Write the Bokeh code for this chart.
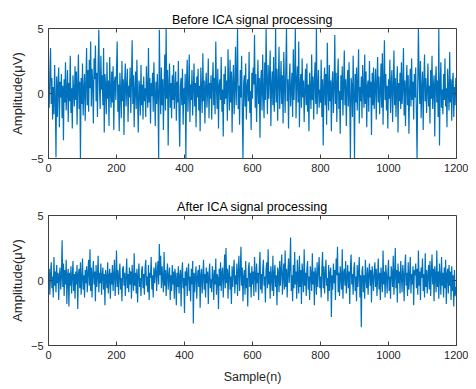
from bokeh.plotting import figure
from bokeh.layouts import column
from bokeh.models import FixedTicker, Range1d
from bokeh.embed import file_html
from bokeh.resources import INLINE

STEP = 2  # sample spacing of the read-off values

before_ica = [
    0.3, -1.1, 1.6, 3.5, -0.8, 1.2, -2.0, 0.5, -1.6, 2.2, -0.4, -4.9, 1.3, -1.8, 0.7, 2.0, -2.6, 0.9, -0.3, 1.5,
    -1.9, 0.6, -3.6, 1.1, -0.7, 2.4, -1.3, 0.2, 1.8, -2.2, 0.8, -0.6, 2.9, -1.5, 0.4, -2.7, 1.4, 0.1, -1.0, 2.1,
    -0.5, 1.7, -2.4, 0.6, 3.0, -1.2, 0.9, -5.0, 1.2, -0.8, 2.3, -1.7, 0.3, 1.5, -2.1, 0.7, 3.5, -0.9, 1.8, -1.4,
    2.6, 0.4, 4.0, -1.0, 1.9, 0.8, -2.3, 2.7, 1.1, 3.7, -0.6, 1.6, -1.8, 2.2, 4.9, 0.5, -1.2, 2.9, 0.3, 1.4,
    -0.9, 3.5, -3.0, 1.5, 0.6, -1.6, 2.4, -0.4, 1.0, -2.5, 2.8, 0.2, -1.1, 1.7, -0.7, 2.1, -2.8, 0.9, 1.3, -0.5,
    1.8, 4.0, -1.4, 0.7, -2.9, 1.6, 0.1, -1.9, 2.5, -0.6, 1.1, -3.2, 0.8, 2.3, -1.0, 0.4, 1.9, -2.2, 0.6, -0.3,
    2.0, -1.5, 0.9, 4.1, -0.8, 1.4, -2.6, 0.3, 1.7, -1.2, 2.6, -0.4, -3.0, 1.0, 0.5, -1.7, 2.2, -0.9, 0.7, -2.0,
    1.3, -0.6, 0.4, -1.8, 2.1, 0.2, -1.1, 3.5, -0.7, 1.2, -2.3, 0.8, -0.2, 1.6, -1.4, 2.4, 0.1, -2.5, 0.9, -0.8,
    1.5, -0.3, -5.0, 4.9, 0.6, -1.6, 2.0, -0.9, 1.1, -2.8, 0.5, 3.0, -1.3, 5.0, -0.4, 1.8, -4.0, 0.7, 2.3, -1.1,
    0.8, -1.9, 1.4, -0.5, 2.2, -1.2, 0.3, 1.7, -2.1, 0.9, -0.7, 2.5, -1.6, -4.1, 0.6, 1.2, -0.9, 1.9, -2.4, 0.4,
    -0.8, 1.5, -5.0, 0.9, 2.6, -1.4, 0.2, 3.0, -2.2, 0.7, -0.5, 1.8, -1.7, 0.4, 2.3, -1.0, 0.8, -2.6, 1.3, -0.3,
    1.9, -1.3, 0.6, -2.9, 2.0, 0.3, -1.5, 3.1, -0.6, 1.0, -2.3, 0.5, 1.6, -1.1, 0.2, 2.7, -1.9, 0.8, -0.4, 1.4,
    -2.0, 0.7, 2.4, -0.9, 1.2, -1.6, 4.0, 0.4, -1.2, 1.9, -2.7, 0.6, 1.1, -0.5, 2.8, -1.4, 0.3, -3.3, 1.5, -0.8,
    2.1, -0.4, 1.0, -2.1, 3.4, 0.5, -1.3, 2.6, -0.7, 1.7, -3.0, 0.9, 2.2, -1.6, 0.4, 3.6, -0.9, 1.3, 5.0, -1.2,
    0.6, -2.4, 1.8, -0.3, 2.9, -1.7, -5.0, 0.8, 1.4, -1.0, 2.3, -2.0, 0.5, 1.1, -0.6, 3.2, -1.5, 0.2, -2.8, 1.6,
    -0.4, 2.0, 0.7, 4.5, -1.1, 1.5, -2.2, 0.3, 2.6, -0.8, 1.2, -3.4, 0.9, 1.8, -1.3, 3.0, 0.1, -1.9, 2.4, -0.5,
    5.0, 0.8, -1.6, 2.2, -0.4, 1.3, 3.3, -2.5, 0.6, 1.7, -0.9, 2.8, -1.4, 0.4, 5.0, -0.7, 1.9, -2.1, 1.0, 3.6,
    -1.2, 0.5, 2.5, -0.8, 1.4, -2.3, 3.2, 0.7, -1.5, 2.0, 5.0, -0.6, 1.1, -2.7, 0.9, 2.3, -1.0, 0.3, 1.6, -1.8,
    3.4, -0.5, 1.2, 5.0, -1.9, 0.8, 2.1, -0.7, 4.0, -2.6, 0.6, 1.5, -1.1, 2.7, -0.3, 1.0, -2.2, 0.4, 1.9, -0.9,
    2.3, -1.4, 0.7, -2.9, 1.6, 0.2, -1.2, 3.0, -0.5, 1.3, -2.0, 0.9, 2.4, -0.8, 5.0, -1.6, 0.5, 1.8, -1.1, 0.3,
    -0.7, 2.6, -1.8, 1.1, -4.0, 0.6, 2.0, -0.9, 1.5, -2.4, 3.9, 0.3, -1.3, 2.2, -0.6, 1.0, -2.9, 0.8, 1.7, -1.5,
    0.4, 4.5, -0.8, 1.6, -2.2, 0.9, 2.7, -1.2, 0.2, -3.1, 1.4, -0.5, 2.1, -1.7, 0.7, 3.3, -0.9, 1.1, -2.5, 0.5,
    1.8, -1.0, 2.4, -0.4, -5.0, 1.2, 0.6, -1.8, 2.9, 0.1, -5.0, 1.5, -0.7, 2.0, -1.3, 0.8, 3.4, -2.3, 0.5, -0.6,
    1.3, -1.9, 2.2, 0.4, -1.1, 3.0, -0.8, 1.7, -2.6, 0.6, 1.0, -1.4, 2.5, -0.3, 0.9, -3.2, 1.6, -0.9, 2.0, -1.2,
    0.5, 1.9, -2.0, 0.8, 2.8, -0.7, 1.3, -1.6, 0.2, 2.3, -1.1, 3.1, -2.4, 0.9, 4.1, -0.5, 1.5, -1.3, 0.6, -2.7,
    1.1, -0.4, 2.6, -1.5, 0.7, 1.8, -2.2, 0.3, 3.3, -0.9, 1.2, -1.8, 0.5, 2.1, -3.0, 0.8, -0.6, 1.6, -1.2, 2.4,
    -0.8, 0.4, 3.5, -1.7, 1.0, -2.5, 0.6, 2.2, -0.9, 1.4, -3.1, 0.2, 1.9, -1.0, 2.7, -0.5, 0.9, -2.0, 1.5, -0.3,
    2.0, -1.4, -5.0, 0.7, 5.0, 1.3, -0.8, 2.5, -1.9, 0.4, 1.7, -2.8, 0.9, 3.0, -0.6, 1.2, -1.5, 0.3, 2.3, -1.0,
    0.6, -2.3, 1.8, -0.4, 2.9, -1.2, 0.5, 1.4, -3.3, 0.8, 2.1, -0.7, 1.0, -1.8, 5.0, -4.0, 0.6, 2.4, -1.1, 0.3,
    -1.6, 1.5, -0.5, 2.7, -1.0, 0.4, -2.6, 1.9, 0.2, -1.3, 3.2, -0.7, 1.1, -2.1, 0.8, 1.6, -1.8, 0.5, -0.9, 1.2,
]

after_ica = [
    -0.2, 0.9, -1.1, 0.5, 1.4, -0.6, 0.3, -1.3, 1.8, -0.4, 0.7, -0.9, 1.2, -0.2, 0.6, -1.5, 0.4, 1.0, -0.7, 0.3,
    3.1, -0.5, 1.3, -1.2, 0.8, -0.3, 1.6, -1.8, 0.4, 0.9, -2.0, 0.6, -0.4, 1.1, -1.0, 0.3, 1.5, -0.8, 0.5, -1.4,
    0.7, -0.3, 1.2, -2.2, 0.5, 0.9, -0.6, 1.4, -1.1, 0.2, 1.7, -0.7, 0.4, -1.3, 0.8, -0.2, 1.1, -0.9, 0.6, 1.6,
    -0.4, 2.4, -0.8, 1.0, -1.3, 0.5, 1.5, -0.3, 0.7, -1.6, 1.2, -0.5, 0.3, 1.9, -0.9, 0.6, -0.2, 1.3, -1.1, 0.4,
    1.0, -0.7, 0.5, -1.9, 0.8, 0.2, -0.6, 1.4, -1.0, 0.3, 0.9, -1.4, 0.6, -0.3, 1.2, -0.8, 0.4, 1.6, -1.2, 0.2,
    2.3, -0.5, 0.8, -1.1, 0.4, 1.3, -0.7, 0.2, -1.6, 0.9, 1.1, -0.4, 0.6, -1.2, 0.3, 1.7, -0.6, 0.5, -0.9, 1.0,
    -0.3, 0.7, -1.4, 1.2, 0.1, -0.8, 2.1, -0.4, 0.6, -1.0, 0.9, -1.7, 0.4, 1.3, -0.5, 0.2, -1.2, 0.8, 1.1, -0.6,
    0.5, -1.1, 0.9, 1.6, -0.4, 0.3, -0.9, 1.2, -1.5, 0.6, 0.2, 1.8, -0.7, 0.4, -1.3, 1.0, -0.2, 0.7, 1.4, -0.8,
    0.6, 1.5, -0.3, 2.8, 0.4, 1.9, -0.6, 1.1, 0.2, -0.9, 2.2, -0.4, 0.8, -1.2, 0.5, 1.3, -0.7, 0.3, 1.0, -1.5,
    0.4, -0.8, 1.2, -0.3, 0.7, -1.4, 0.9, 0.2, -1.9, 0.6, -0.5, 1.1, -1.0, 0.3, 0.8, -2.0, 0.5, 1.4, -0.6, 0.2,
    -2.5, 0.7, -0.4, 1.0, -1.2, 0.5, 1.3, -0.8, 0.3, -1.6, 0.9, -0.3, 1.5, -3.3, 0.6, -0.9, 0.4, 1.1, -1.4, 0.2,
    0.8, -0.5, 1.2, -2.1, 0.4, 0.9, -1.0, 0.3, 1.6, -0.7, 0.5, -1.3, 1.0, -0.2, 0.7, -1.8, 0.4, 1.3, -0.6, 0.1,
    -0.9, 1.1, 0.4, -1.5, 0.8, -0.3, 1.7, -1.1, 0.5, 0.2, -2.2, 0.9, -0.4, 1.4, -0.8, 0.6, 1.0, -1.3, 0.3, 2.0,
    -0.6, 2.5, -0.2, 0.9, -1.4, 0.5, 1.2, -0.7, 0.3, -1.8, 1.1, -0.5, 0.7, 1.6, -1.0, 0.4, -0.3, 1.3, -1.2, 0.6,
    1.9, -0.8, 0.5, 2.6, -0.4, 1.0, -1.6, 0.3, 0.8, -1.1, 1.5, -0.6, 0.2, -2.0, 0.9, 1.4, -0.5, 0.6, -1.3, 1.1,
    -0.3, 0.7, -1.2, 1.8, 0.4, -0.9, 1.3, -0.2, 0.6, -1.5, 1.0, 2.2, -0.7, 0.5, -1.0, 0.8, 1.6, -0.4, 0.3, -1.7,
    0.9, 1.4, -0.6, 2.4, -0.3, 0.7, -1.4, 1.1, 0.2, -0.8, 1.9, -1.2, 0.5, 1.2, -0.5, 0.4, -1.9, 1.0, 0.6, -0.9,
    1.5, -0.4, 0.8, 2.0, -1.1, 0.3, 1.3, -0.7, 2.3, -0.5, 0.9, -1.3, 0.6, 1.7, -0.2, 1.1, 3.3, -0.8, 0.4, -1.6,
    1.2, -0.6, 2.2, -0.3, 0.7, -1.4, 1.6, 0.2, -1.0, 1.9, -0.5, 0.8, -1.8, 1.3, 0.4, -0.9, 2.4, -0.4, 0.6, -1.2,
    0.9, 1.5, -0.7, 0.3, -1.5, 1.1, 0.5, -0.8, 2.1, -0.3, 0.7, -1.9, 1.0, 0.4, -1.1, 1.4, -0.5, 0.8, 1.8, -0.6,
    0.3, -1.3, 0.9, 2.2, -0.6, 1.1, -1.0, 0.5, 1.6, -0.4, 0.2, -1.6, 1.2, -0.8, 0.6, 1.0, -2.8, 0.4, -0.7, 1.3,
    -0.2, 0.8, -1.5, 1.7, 0.4, 2.6, -0.9, 0.6, -1.2, 1.1, 0.3, -0.7, 2.4, -1.4, 0.5, 0.9, -0.4, 1.5, -1.0, 0.2,
    1.2, -0.6, 0.7, -1.8, 1.0, 2.0, -0.3, 0.5, -1.1, 0.9, 1.4, -0.8, 0.3, -1.6, 1.2, -0.5, 0.6, 1.8, -1.3, 0.4,
    -3.6, 0.7, 1.1, -0.9, 0.4, -1.4, 1.6, 0.2, -0.6, 1.0, -1.1, 0.5, 1.3, -0.4, 0.8, -1.7, 1.1, 0.3, -0.8, 0.6,
    1.4, -0.5, 0.9, -1.2, 0.3, 1.7, -0.7, 0.6, -1.5, 1.0, 0.2, -0.9, 2.3, -0.3, 0.7, -1.3, 1.2, 0.4, -1.0, 0.5,
    1.6, -0.8, 0.3, -1.4, 1.1, 0.6, -0.5, 1.9, -1.1, 0.4, 2.5, -0.6, 0.8, -1.7, 1.3, -0.2, 0.7, -1.0, 1.5, 0.3,
    -0.9, 1.2, 0.5, -1.6, 0.9, 2.0, -0.4, 0.6, -1.2, 1.4, -0.7, 0.3, 1.8, -1.0, 0.5, -0.3, 1.1, -1.9, 0.8, 0.4,
    1.3, -0.6, 0.9, -1.1, 2.3, -0.4, 0.7, -1.5, 1.0, 0.2, 1.7, -0.8, 0.5, -1.3, 2.1, -0.5, 0.8, -1.0, 0.4, 1.2,
    -0.7, 1.5, -1.2, 0.6, 2.0, -0.3, 0.9, -1.6, 1.1, 0.4, -0.9, 2.3, -0.5, 0.7, -1.4, 1.3, 0.2, -1.1, 1.8, -0.4,
    0.6, -1.3, 1.0, -0.6, 1.6, -1.8, 0.5, 0.9, -1.0, 1.2, -0.4, 0.7, -1.5, 1.1, -0.8, 0.4, -2.0, 0.8, -1.2, -0.5,
]

titles = ["Before ICA signal processing", "After ICA signal processing"]
x_ticks = [0, 200, 400, 600, 800, 1000, 1200]
y_ticks = [-5, 0, 5]
y_label = "Amplitude(\u03bcV)"
x_label = "Sample(n)"

FONT = "Liberation Sans"
TXT = "#262626"
AX = "#404040"
BLUE = "#0072BD"

X_MIN, X_MAX, Y_MIN, Y_MAX = 0, 1200, -5, 5
TICK_PX = 4  # inward tick length in screen pixels


def style_axis(ax, ticks):
    ax.ticker = FixedTicker(ticks=ticks)
    ax.axis_line_color = AX
    ax.major_tick_line_color = AX
    ax.major_tick_in = TICK_PX
    ax.major_tick_out = 0
    ax.minor_tick_line_color = None
    ax.major_label_text_font = FONT
    ax.major_label_text_font_size = "11px"
    ax.major_label_text_color = TXT
    ax.major_label_standoff = 5
    ax.axis_label_text_font = FONT
    ax.axis_label_text_font_size = "13px"
    ax.axis_label_text_font_style = "normal"
    ax.axis_label_text_color = TXT


def make(values, title, height, show_xlabel):
    xs = [i * STEP for i in range(len(values))]
    frame_w, frame_h = 408, (130 if not show_xlabel else 131)
    p = figure(width=468, height=height, output_backend="svg", toolbar_location=None,
               x_range=Range1d(X_MIN, X_MAX), y_range=Range1d(Y_MIN, Y_MAX),
               min_border_left=48, min_border_right=12,
               min_border_top=28 if not show_xlabel else 20,
               min_border_bottom=37 if not show_xlabel else 40)
    p.line(xs, values, line_color=BLUE, line_width=1.2)
    # MATLAB-style box: inward ticks on the top and right edges too
    dy = TICK_PX * (Y_MAX - Y_MIN) / frame_h
    dx = TICK_PX * (X_MAX - X_MIN) / frame_w
    p.segment(x0=x_ticks, y0=[Y_MAX] * len(x_ticks), x1=x_ticks, y1=[Y_MAX - dy] * len(x_ticks),
              line_color=AX, line_width=1)
    p.segment(x0=[X_MAX] * len(y_ticks), y0=y_ticks, x1=[X_MAX - dx] * len(y_ticks), y1=y_ticks,
              line_color=AX, line_width=1)
    p.title.text = title
    p.title.align = "center"
    p.title.text_font = FONT
    p.title.text_font_style = "normal"
    p.title.text_font_size = "12.5px"
    p.title.text_color = "#000000"
    p.title.offset = 0
    p.title.standoff = 4
    p.xgrid.visible = False
    p.ygrid.visible = False
    p.background_fill_color = "white"
    p.border_fill_color = "white"
    p.outline_line_color = AX
    p.outline_line_width = 1
    p.outline_line_alpha = 1
    style_axis(p.xaxis[0], x_ticks)
    style_axis(p.yaxis[0], y_ticks)
    p.yaxis[0].axis_label = y_label
    p.yaxis[0].axis_label_standoff = 3
    if show_xlabel:
        p.xaxis[0].axis_label = x_label
        p.xaxis[0].axis_label_text_font_size = "12.5px"
        p.xaxis[0].axis_label_standoff = 8
    return p


p1 = make(before_ica, titles[0], 195, False)
p2 = make(after_ica, titles[1], 191, True)
layout = column(p1, p2, spacing=0)

open("out.html", "w").write(file_html(layout, INLINE))
